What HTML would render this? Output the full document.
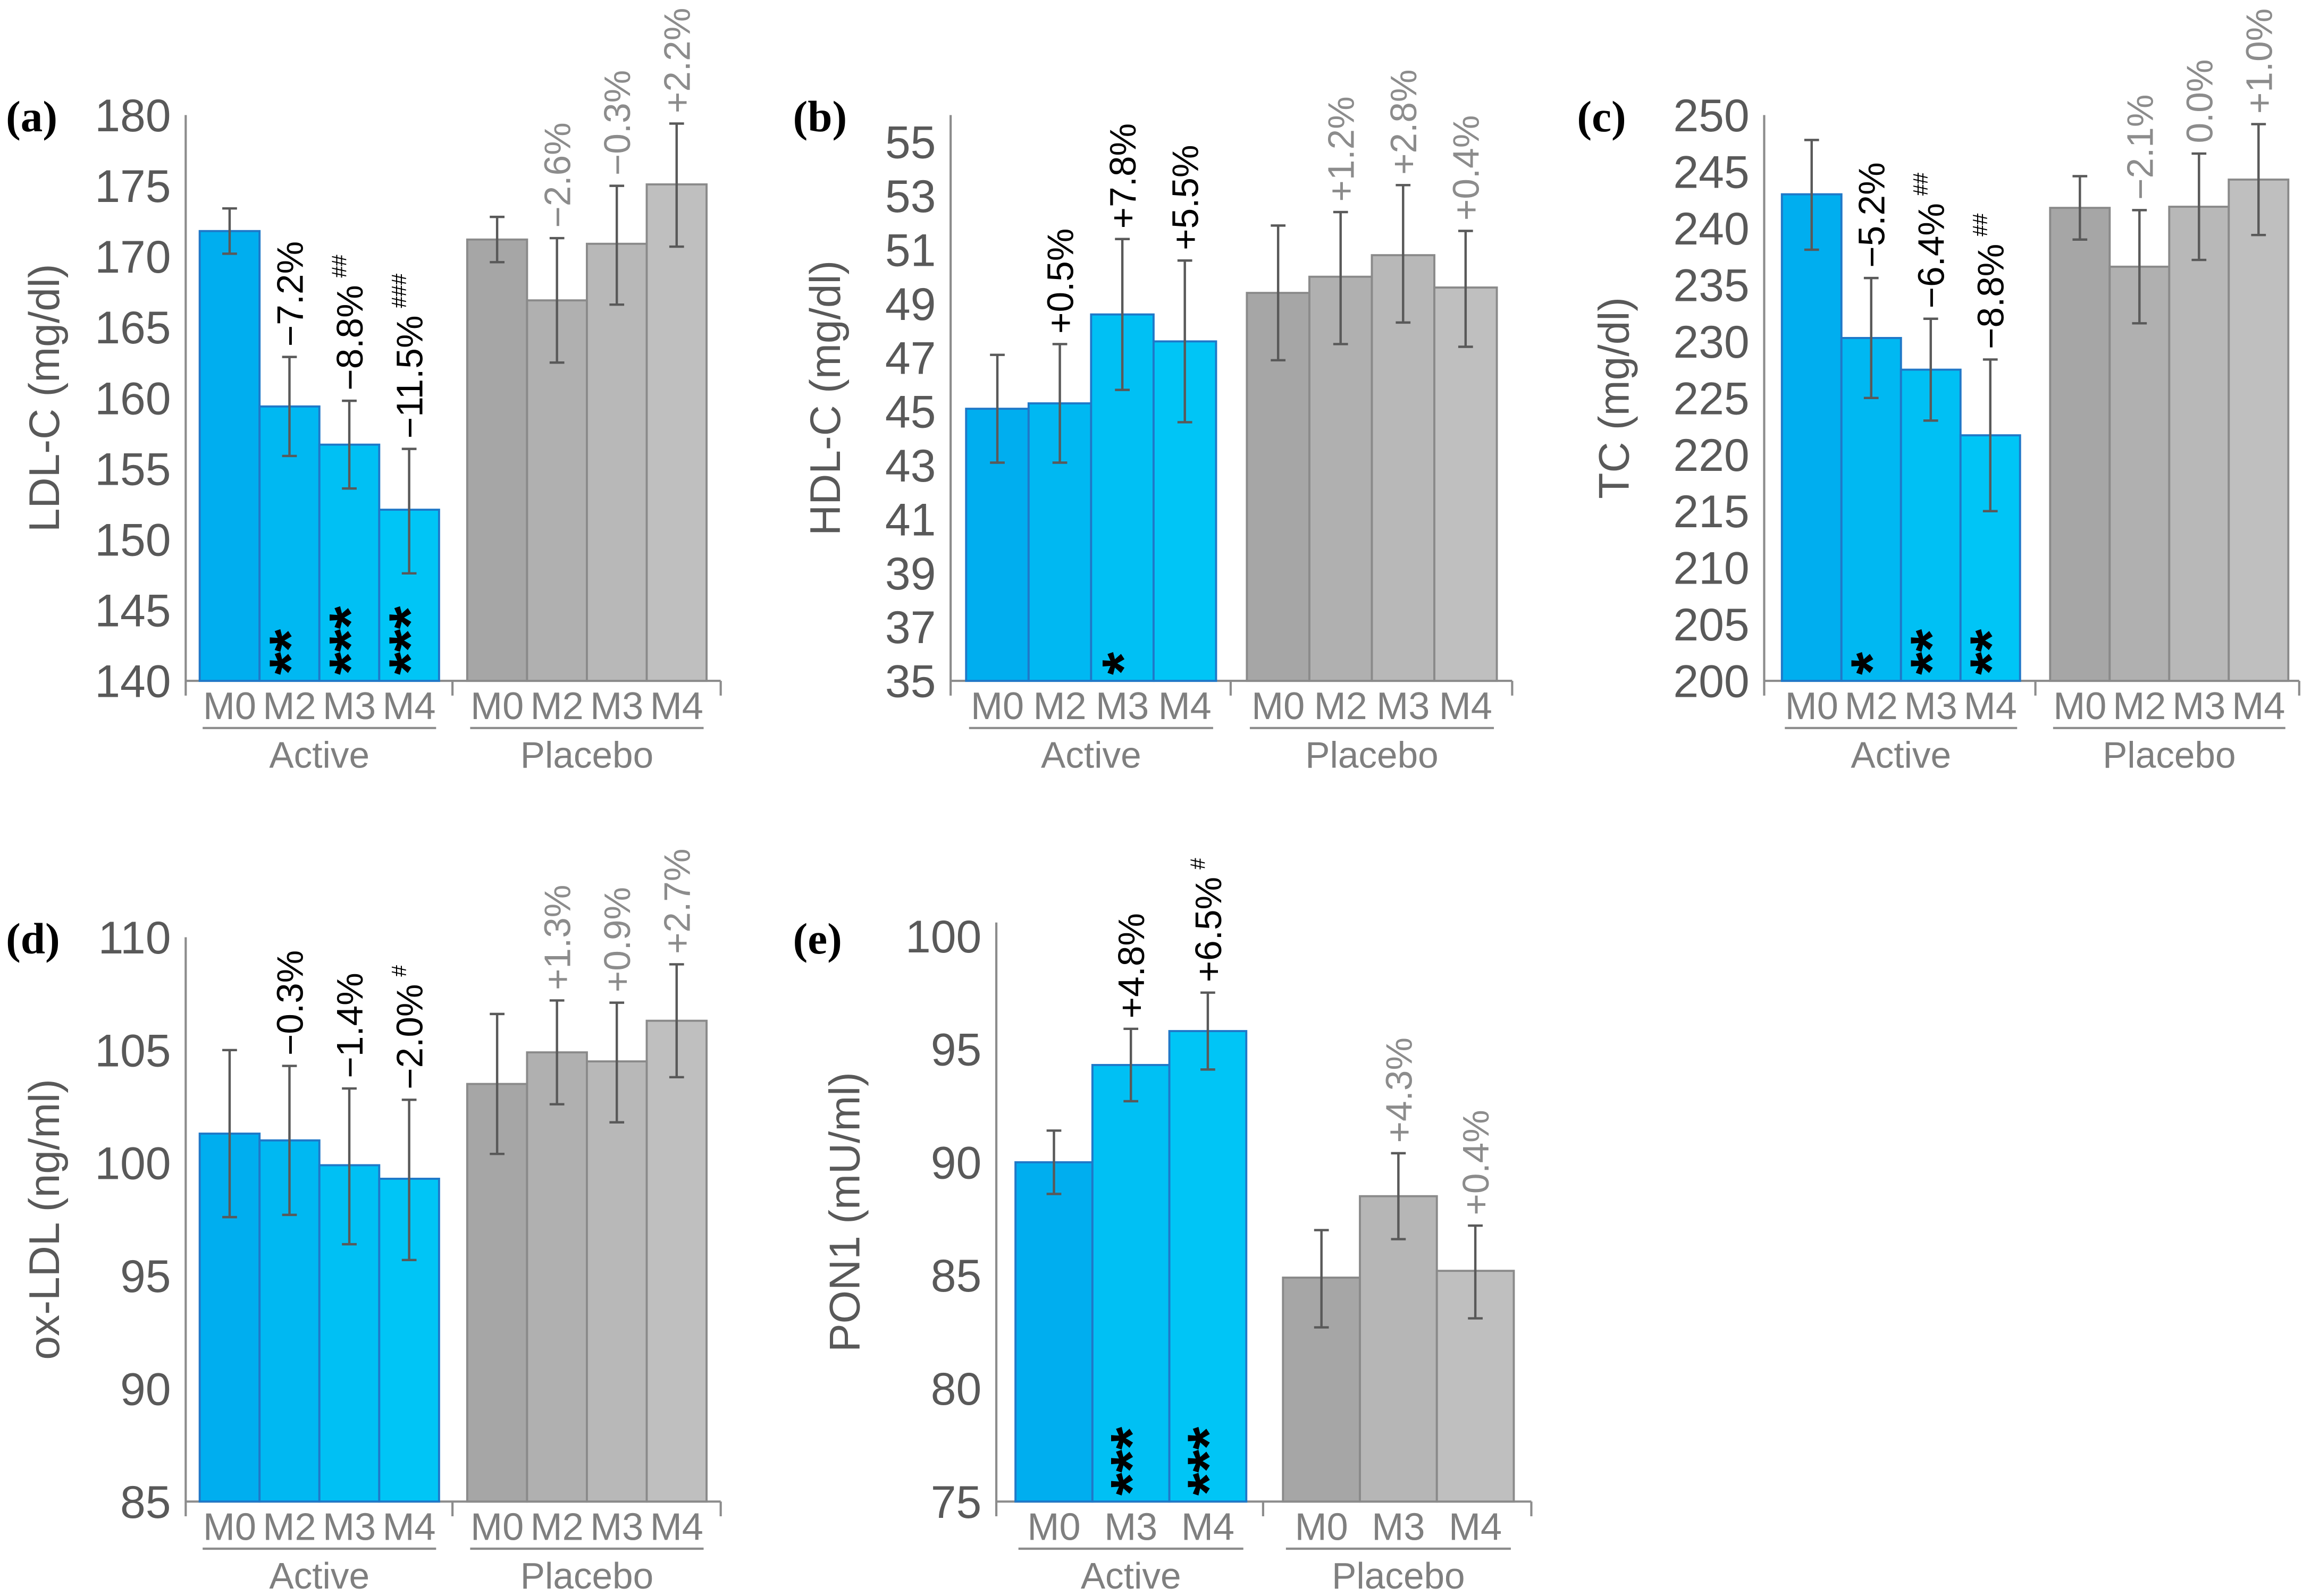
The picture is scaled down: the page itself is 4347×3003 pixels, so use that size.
<!DOCTYPE html>
<html><head><meta charset="utf-8">
<style>
html,body{margin:0;padding:0;background:#fff;}
svg{display:block;}
text{font-family:"Liberation Sans",Arial,sans-serif;}
text.plabel{font-family:"Liberation Serif",serif;}
</style></head>
<body>
<svg id="chart" xmlns="http://www.w3.org/2000/svg" width="4347" height="3003" viewBox="0 0 1568 1083"></svg>
<script>
// ---------- data ----------
const catsA4 = ["M0","M2","M3","M4"];
const catsA3 = ["M0","M3","M4"];
const groups = ["Active","Placebo"];

const ldlActive = [171.8,159.4,156.7,152.1];
const ldlActiveHi = [173.4,162.9,159.8,156.4];
const ldlActiveLo = [170.2,155.9,153.6,147.6];
const ldlPlacebo = [171.2,166.9,170.9,175.1];
const ldlPlaceboHi = [172.8,171.3,175.0,179.4];
const ldlPlaceboLo = [169.6,162.5,166.6,170.7];
const ldlActiveLbl = ["","−7.2%","−8.8%","−11.5%"];
const ldlActiveSup = ["","","##","###"];
const ldlActiveStar = ["","**","***","***"];
const ldlPlaceboLbl = ["","−2.6%","−0.3%","+2.2%"];
const ldlTicks = [140,145,150,155,160,165,170,175,180];

const hdlActive = [45.1,45.3,48.6,47.6];
const hdlActiveHi = [47.1,47.5,51.4,50.6];
const hdlActiveLo = [43.1,43.1,45.8,44.6];
const hdlPlacebo = [49.4,50.0,50.8,49.6];
const hdlPlaceboHi = [51.9,52.4,53.4,51.7];
const hdlPlaceboLo = [46.9,47.5,48.3,47.4];
const hdlActiveLbl = ["","+0.5%","+7.8%","+5.5%"];
const hdlActiveSup = ["","","",""];
const hdlActiveStar = ["","","*",""];
const hdlPlaceboLbl = ["","+1.2%","+2.8%","+0.4%"];
const hdlTicks = [35,37,39,41,43,45,47,49,51,53,55];

const tcActive = [243.0,230.3,227.5,221.7];
const tcActiveHi = [247.8,235.6,232.0,228.4];
const tcActiveLo = [238.1,225.0,223.0,215.0];
const tcPlacebo = [241.8,236.6,241.9,244.3];
const tcPlaceboHi = [244.6,241.6,246.6,249.2];
const tcPlaceboLo = [239.0,231.6,237.2,239.4];
const tcActiveLbl = ["","−5.2%","−6.4%","−8.8%"];
const tcActiveSup = ["","","##","##"];
const tcActiveStar = ["","*","**","**"];
const tcPlaceboLbl = ["","−2.1%","0.0%","+1.0%"];
const tcTicks = [200,205,210,215,220,225,230,235,240,245,250];

const oxActive = [101.3,101.0,99.9,99.3];
const oxActiveHi = [105.0,104.3,103.3,102.8];
const oxActiveLo = [97.6,97.7,96.4,95.7];
const oxPlacebo = [103.5,104.9,104.5,106.3];
const oxPlaceboHi = [106.6,107.2,107.1,108.8];
const oxPlaceboLo = [100.4,102.6,101.8,103.8];
const oxActiveLbl = ["","−0.3%","−1.4%","−2.0%"];
const oxActiveSup = ["","","","#"];
const oxActiveStar = ["","","",""];
const oxPlaceboLbl = ["","+1.3%","+0.9%","+2.7%"];
const oxTicks = [85,90,95,100,105,110];

const ponActive = [90.0,94.3,95.8];
const ponActiveHi = [91.4,95.9,97.5];
const ponActiveLo = [88.6,92.7,94.1];
const ponPlacebo = [84.9,88.5,85.2];
const ponPlaceboHi = [87.0,90.4,87.2];
const ponPlaceboLo = [82.7,86.6,83.1];
const ponActiveLbl = ["","+4.8%","+6.5%"];
const ponActiveSup = ["","","#"];
const ponActiveStar = ["","***","***"];
const ponPlaceboLbl = ["","+4.3%","+0.4%"];
const ponTicks = [75,80,85,90,95,100];

// ---------- drawing ----------
const NS = "http://www.w3.org/2000/svg";
const svg = document.getElementById("chart");
function mk(tag, attrs, parent){
  const e = document.createElementNS(NS, tag);
  for (const k in attrs) e.setAttribute(k, attrs[k]);
  (parent||svg).appendChild(e);
  return e;
}
const activeFill4 = ["#00aeef","#00b8f2","#00c0f4","#00c5f6"];
const activeFill3 = ["#00aeef","#00c0f4","#00c5f6"];
const placeboFill4 = ["#a6a6a6","#b0b0b0","#b8b8b8","#bfbfbf"];
const placeboFill3 = ["#a6a6a6","#b6b6b6","#bfbfbf"];

function panel(cfg){
  const g = mk("g", {});
  
  
  const y = v => cfg.yBot - (v - cfg.min) / (cfg.axisMax - cfg.min) * (cfg.yBot - cfg.yTop);
  const pl = mk("text", {x:cfg.letterX, y:cfg.letterY, "font-size":30, "font-weight":"bold", "class":"plabel", fill:"#000"}, g);
  pl.textContent = cfg.letter;
  
  
  const yt = mk("text", {x:0, y:0, "font-size":29, fill:"#595959", "text-anchor":"middle", transform:`translate(${cfg.titleX},${(cfg.yTop+cfg.yBot)/2}) rotate(-90)`}, g);
  yt.textContent = cfg.title;
  
  
  cfg.ticks.forEach(t => {
    const tl = mk("text", {x:cfg.axisX - 10, y:y(t) + 11, "font-size":31, fill:"#595959", "text-anchor":"end"}, g);
    tl.textContent = t;
    
    
  });
  const ya = mk("line", {x1:cfg.axisX, y1:cfg.yTop, x2:cfg.axisX, y2:cfg.yBot+10, stroke:"#8c8c8c", "stroke-width":1.5}, g);
  
  
  const xa = mk("line", {x1:cfg.axisX, y1:cfg.yBot, x2:cfg.axisEnd, y2:cfg.yBot, stroke:"#8c8c8c", "stroke-width":1.5}, g);
  
  
  [cfg.sepX, cfg.axisEnd].forEach(xx => {
    const tk = mk("line", {x1:xx, y1:cfg.yBot, x2:xx, y2:cfg.yBot+10, stroke:"#8c8c8c", "stroke-width":1.5}, g);
    
    
  });
  const series = [
    {start:cfg.aStart, vals:cfg.aVals, hi:cfg.aHi, lo:cfg.aLo, lbl:cfg.aLbl, sup:cfg.aSup, star:cfg.aStar, fills:cfg.aFills, stroke:"#1f78c8", lblColor:"#000", grp:"active"},
    {start:cfg.pStart, vals:cfg.pVals, hi:cfg.pHi, lo:cfg.pLo, lbl:cfg.pLbl, sup:null, star:null, fills:cfg.pFills, stroke:"#8a8a8a", lblColor:"#8c8c8c", grp:"placebo"}
  ];
  series.forEach((s, si) => {
    s.vals.forEach((v, i) => {
      const x0 = s.start + i*cfg.bw;
      const cx = x0 + cfg.bw/2;
      const r = mk("rect", {x:x0, y:y(v), width:cfg.bw, height:cfg.yBot - y(v), fill:s.fills[i], stroke:s.stroke, "stroke-width":1.4}, g);
      
      
      const yh = y(s.hi[i]), yl = y(s.lo[i]);
      const eb = mk("path", {d:`M${cx},${yh}V${yl}M${cx-5},${yh}H${cx+5}M${cx-5},${yl}H${cx+5}`, stroke:"#595959", "stroke-width":1.6, fill:"none"}, g);
      
      
      if (s.lbl[i]) {
        const t = mk("text", {x:0, y:0, "font-size":25, fill:s.lblColor, transform:`translate(${cx+9},${yh-7}) rotate(-90)`}, g);
        t.textContent = s.lbl[i];
        if (s.sup && s.sup[i]) {
          const ts = mk("tspan", {"font-size":14, dy:-11, dx:5}, t);
          ts.textContent = s.sup[i];
        }
        
        
      }
      if (s.star && s.star[i]) {
        const st = mk("text", {x:0, y:0, "font-size":40, "font-weight":"bold", fill:"#000", transform:`translate(${cx+14},${cfg.yBot-4}) rotate(-90)`}, g);
        st.textContent = s.star[i];
        
        
      }
      const cl = mk("text", {x:cx, y:cfg.yBot+26, "font-size":26, fill:"#7f7f7f", "text-anchor":"middle"}, g);
      cl.textContent = cfg.cats[i];
      
      
    });
    const gx0 = s.start + 2, gx1 = s.start + s.vals.length*cfg.bw - 2;
    const gl = mk("line", {x1:gx0, y1:cfg.yBot+32, x2:gx1, y2:cfg.yBot+32, stroke:"#8c8c8c", "stroke-width":1.5}, g);
    
    
    const gt = mk("text", {x:(gx0+gx1)/2, y:cfg.yBot+59, "font-size":25, fill:"#7f7f7f", "text-anchor":"middle"}, g);
    gt.textContent = groups[si];
    
    
  });
}

panel({name:"panel-a-ldl", letter:"(a)", letterX:4, letterY:89, title:"LDL-C (mg/dl)", titleX:40,
  axisX:126, axisEnd:489, sepX:307, yTop:78, yBot:462, min:140, axisMax:180, ticks:ldlTicks,
  cats:catsA4, bw:40.6, aStart:135.5, pStart:317,
  aVals:ldlActive, aHi:ldlActiveHi, aLo:ldlActiveLo, aLbl:ldlActiveLbl, aSup:ldlActiveSup, aStar:ldlActiveStar, aFills:activeFill4,
  pVals:ldlPlacebo, pHi:ldlPlaceboHi, pLo:ldlPlaceboLo, pLbl:ldlPlaceboLbl, pFills:placeboFill4});

panel({name:"panel-b-hdl", letter:"(b)", letterX:538, letterY:89, title:"HDL-C (mg/dl)", titleX:570,
  axisX:645, axisEnd:1026, sepX:835, yTop:78, yBot:462, min:35, axisMax:56, ticks:hdlTicks,
  cats:catsA4, bw:42.4, aStart:655.5, pStart:846,
  aVals:hdlActive, aHi:hdlActiveHi, aLo:hdlActiveLo, aLbl:hdlActiveLbl, aSup:hdlActiveSup, aStar:hdlActiveStar, aFills:activeFill4,
  pVals:hdlPlacebo, pHi:hdlPlaceboHi, pLo:hdlPlaceboLo, pLbl:hdlPlaceboLbl, pFills:placeboFill4});

panel({name:"panel-c-tc", letter:"(c)", letterX:1070, letterY:89, title:"TC (mg/dl)", titleX:1105,
  axisX:1197, axisEnd:1560, sepX:1381, yTop:78, yBot:462, min:200, axisMax:250, ticks:tcTicks,
  cats:catsA4, bw:40.4, aStart:1209, pStart:1391,
  aVals:tcActive, aHi:tcActiveHi, aLo:tcActiveLo, aLbl:tcActiveLbl, aSup:tcActiveSup, aStar:tcActiveStar, aFills:activeFill4,
  pVals:tcPlacebo, pHi:tcPlaceboHi, pLo:tcPlaceboLo, pLbl:tcPlaceboLbl, pFills:placeboFill4});

panel({name:"panel-d-oxldl", letter:"(d)", letterX:4, letterY:647, title:"ox-LDL (ng/ml)", titleX:40,
  axisX:126, axisEnd:489, sepX:307, yTop:636, yBot:1019, min:85, axisMax:110, ticks:oxTicks,
  cats:catsA4, bw:40.6, aStart:135.5, pStart:317,
  aVals:oxActive, aHi:oxActiveHi, aLo:oxActiveLo, aLbl:oxActiveLbl, aSup:oxActiveSup, aStar:oxActiveStar, aFills:activeFill4,
  pVals:oxPlacebo, pHi:oxPlaceboHi, pLo:oxPlaceboLo, pLbl:oxPlaceboLbl, pFills:placeboFill4});

panel({name:"panel-e-pon1", letter:"(e)", letterX:538, letterY:647, title:"PON1 (mU/ml)", titleX:583,
  axisX:676, axisEnd:1039, sepX:857, yTop:626, yBot:1019, min:75, axisMax:100.6, ticks:ponTicks,
  cats:catsA3, bw:52.2, aStart:689, pStart:870.5,
  aVals:ponActive, aHi:ponActiveHi, aLo:ponActiveLo, aLbl:ponActiveLbl, aSup:ponActiveSup, aStar:ponActiveStar, aFills:activeFill3,
  pVals:ponPlacebo, pHi:ponPlaceboHi, pLo:ponPlaceboLo, pLbl:ponPlaceboLbl, pFills:placeboFill3});
</script>
</body></html>
